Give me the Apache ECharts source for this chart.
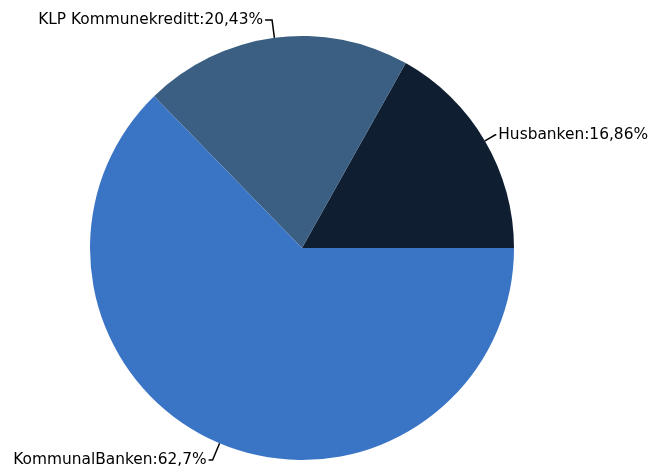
<!DOCTYPE html>
<html>
<head>
<meta charset="utf-8">
<script src="https://cdn.jsdelivr.net/npm/echarts@6/dist/echarts.min.js"></script>
<style>html,body{margin:0;padding:0;background:#fff;}#c{width:650px;height:471px;}</style>
</head>
<body>
<div id="c"></div>
<script>
const categories = ['Husbanken', 'KLP Kommunekreditt', 'KommunalBanken'];
const values = [16.86, 20.43, 62.7];
const labels = ['16,86%', '20,43%', '62,7%'];
const colors = ['#0f1e31', '#3a5f82', '#3a75c5'];

const lineLens = [12, 18, 18];
const lineLens2 = [1, 7, 4];

const chart = echarts.init(document.getElementById('c'), null, {renderer: 'canvas'});
chart.setOption({
  animation: false,
  series: [{
    type: 'pie',
    center: [302, 248],
    radius: 212,
    startAngle: 0,
    clockwise: false,
    avoidLabelOverlap: false,
    data: categories.map((n, i) => ({
      name: n, value: values[i], itemStyle: {color: colors[i]},
      labelLine: {length: lineLens[i], length2: lineLens2[i]}
    })),
    label: {
      show: true,
      color: '#000',
      fontFamily: 'DejaVu Sans',
      fontSize: 15.4,
      distanceToLabelLine: 2,
      formatter: p => p.name + ':' + labels[p.dataIndex]
    },
    labelLine: {show: true, length: 18, length2: 3, lineStyle: {color: '#000', width: 1.5}},
    emphasis: {disabled: true}
  }]
});
</script>
</body>
</html>
